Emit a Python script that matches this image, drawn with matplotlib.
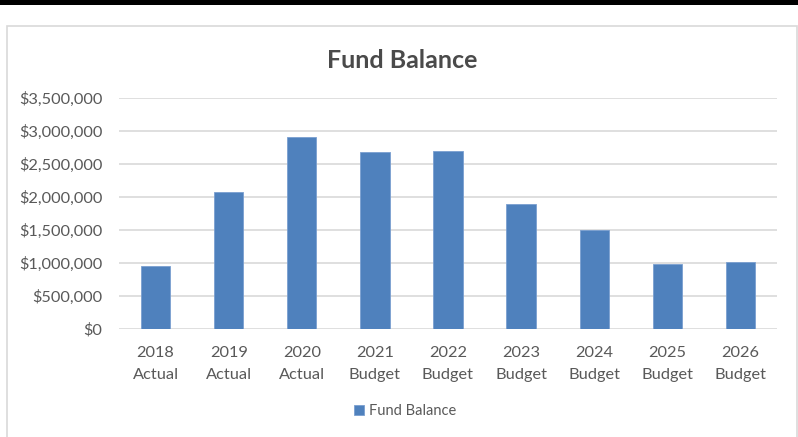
import matplotlib
matplotlib.use("Agg")
import matplotlib.pyplot as plt
from matplotlib.patches import Rectangle
from matplotlib.ticker import FuncFormatter

categories = ["2018\nActual", "2019\nActual", "2020\nActual", "2021\nBudget", "2022\nBudget",
              "2023\nBudget", "2024\nBudget", "2025\nBudget", "2026\nBudget"]
values = [962000, 2076000, 2909000, 2677000, 2697000, 1894000, 1495000, 980000, 1015000]
yticks = [0, 500000, 1000000, 1500000, 2000000, 2500000, 3000000, 3500000]
series_name = "Fund Balance"
title = "Fund Balance"

W, H = 798, 437
plt.rcParams['font.family'] = ['Lato', 'DejaVu Sans']
fig = plt.figure(figsize=(W / 100, H / 100), dpi=100)
fig.patch.set_facecolor("white")

# black band at top
fig.patches.append(Rectangle((0, 1 - 4.5 / H), 1, 4.5 / H, transform=fig.transFigure,
                             facecolor="black", edgecolor="none"))
# chart border
fig.patches.append(Rectangle((6.5 / W, -0.02), (797.3 - 6.5) / W, (437 - 26) / H + 0.02,
                             transform=fig.transFigure, facecolor="none",
                             edgecolor="#d9d9d9", linewidth=1.2))

x0, x1 = 119, 777
y_top, y_bot = 98, 329
ax = fig.add_axes([x0 / W, 1 - y_bot / H, (x1 - x0) / W, (y_bot - y_top) / H])
ax.set_facecolor("none")

xs = list(range(len(categories)))
bars = ax.bar(xs, values, width=0.4, color="#4f81bd", edgecolor="#7a9fd0", linewidth=0.6,
              label=series_name, zorder=3)
ax.set_xlim(-0.5, len(categories) - 0.5)
ax.set_ylim(0, 3500000)
ax.set_yticks(yticks)
ax.yaxis.set_major_formatter(FuncFormatter(lambda v, p: "${:,.0f}".format(v)))
ax.set_xticks(xs)
ax.set_xticklabels(categories, linespacing=1.75)
ax.grid(axis="y", color="#d9d9d9", linewidth=1.2, zorder=0)
for s in ax.spines.values():
    s.set_visible(False)
ax.tick_params(axis="both", length=0, labelsize=11.8, colors="#595959")
ax.tick_params(axis="y", pad=12)
ax.tick_params(axis="x", pad=12)

fig.text(402 / W, 1 - 60 / H, title, ha="center", va="center", fontsize=18,
         fontweight="bold", color="#4a4a4a")

leg = fig.legend(handles=[bars], labels=[series_name], loc="center",
                 bbox_to_anchor=(405 / W, 1 - 411 / H), frameon=False, fontsize=10.5,
                 handlelength=0.7, handleheight=0.7, handletextpad=0.3)
for t in leg.get_texts():
    t.set_color("#595959")

fig.savefig("out.png", dpi=100)
